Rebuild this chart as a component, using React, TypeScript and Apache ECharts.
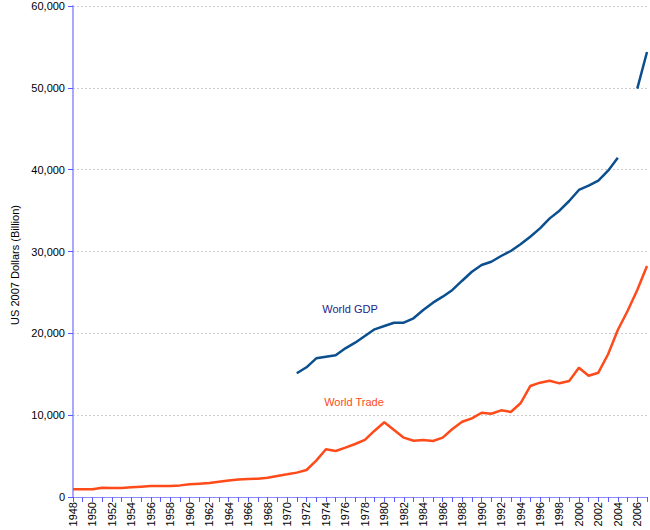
import React, { useEffect, useRef } from "react";
import * as echarts from "echarts";

const years: string[] = [];
for (let y = 1948; y <= 2007; y++) years.push(String(y));

const worldGDP: (number | null)[] = [
  // 1948-1970: no data
  null, null, null, null, null, null, null, null, null, null,
  null, null, null, null, null, null, null, null, null, null,
  null, null, null,
  // 1971-2007
  15120, 15850, 16950, 17150, 17320, 18170, 18860, 19680, 20490, 20900,
  21300, 21300, 21840, 22850, 23750, 24480, 25300, 26430, 27530, 28350,
  28750, 29450, 30060, 30880, 31810, 32830, 34050, 34990, 36170, 37520,
  38040, 38650, 39880, 41470, null, 49900, 54380,
];

const worldTrade: number[] = [
  940, 940, 940, 1140, 1100, 1100, 1180, 1260, 1340, 1340,
  1340, 1420, 1550, 1630, 1710, 1870, 2030, 2150, 2200, 2240,
  2360, 2570, 2770, 2980, 3300, 4440, 5830, 5620, 6030, 6480,
  6970, 8100, 9130, 8190, 7250, 6880, 6970, 6840, 7250, 8310,
  9200, 9610, 10300, 10180, 10590, 10390, 11450, 13560, 13970, 14210,
  13890, 14170, 15800, 14820, 15190, 17440, 20410, 22730, 25300, 28230,
];

const FONT = "'Liberation Sans', Arial, sans-serif";

export default function App() {
  const ref = useRef<HTMLDivElement>(null);
  useEffect(() => {
    if (!ref.current) return;
    const chart = echarts.init(ref.current, undefined, { renderer: "svg" });
    chart.setOption({
      animation: false,
      backgroundColor: "#ffffff",
      grid: { left: 73, right: 3, top: 6, bottom: 33, containLabel: false },
      xAxis: {
        type: "category",
        data: years,
        boundaryGap: false,
        axisLine: { lineStyle: { color: "#8c8cff", width: 1 } },
        axisTick: { show: true, interval: 0, length: 5, lineStyle: { color: "#5a5aff" } },
        axisLabel: {
          interval: 1,
          rotate: 90,
          margin: 5,
          color: "#000000",
          fontSize: 11,
          fontFamily: FONT,
        },
        splitLine: { show: false },
      },
      yAxis: {
        type: "value",
        min: 0,
        max: 60000,
        interval: 10000,
        axisLine: { show: true, lineStyle: { color: "#a8a8ff", width: 2 } },
        axisTick: { show: true, length: 5, lineStyle: { color: "#5a5aff" } },
        axisLabel: {
          margin: 8,
          color: "#000000",
          fontSize: 11,
          fontFamily: FONT,
          formatter: (v: number) => v.toLocaleString("en-US"),
        },
        splitLine: { show: true, lineStyle: { color: "#cccccc", type: [2, 2], width: 1 } },
      },
      series: [
        {
          name: "World GDP",
          type: "line",
          data: worldGDP,
          showSymbol: false,
          connectNulls: false,
          lineStyle: { color: "#0b4f8f", width: 2.5 },
          itemStyle: { color: "#0b4f8f" },
        },
        {
          name: "World Trade",
          type: "line",
          data: worldTrade,
          showSymbol: false,
          lineStyle: { color: "#ff4a1a", width: 2.5 },
          itemStyle: { color: "#ff4a1a" },
        },
      ],
      graphic: [
        {
          type: "text",
          x: 15,
          y: 265,
          rotation: Math.PI / 2,
          style: {
            text: "US 2007 Dollars (Billion)",
            fill: "#000000",
            font: `11px ${FONT}`,
            align: "center",
            verticalAlign: "middle",
          },
        },
        {
          type: "text",
          x: 350,
          y: 309,
          style: {
            text: "World GDP",
            fill: "#23238a",
            font: `11px ${FONT}`,
            align: "center",
            verticalAlign: "middle",
          },
        },
        {
          type: "text",
          x: 354,
          y: 402,
          style: {
            text: "World Trade",
            fill: "#ff4a1a",
            font: `11px ${FONT}`,
            align: "center",
            verticalAlign: "middle",
          },
        },
      ],
    });
    return () => chart.dispose();
  }, []);
  return <div ref={ref} style={{ width: 650, height: 530, position: "absolute", left: 0, top: 0 }} />;
}
